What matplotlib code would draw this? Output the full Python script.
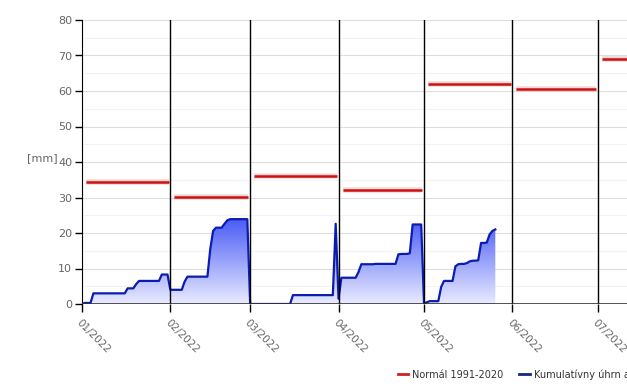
import numpy as np
import matplotlib
matplotlib.use('Agg')
from matplotlib import pyplot as plt
from matplotlib.colors import LinearSegmentedColormap
from matplotlib.lines import Line2D

# month start offsets (days from 1 Jan 2022)
month_starts = [0, 31, 59, 90, 120, 151, 181]
month_labels = ['01/2022', '02/2022', '03/2022', '04/2022', '05/2022', '06/2022', '07/2022']
month_lengths = [31, 28, 31, 30, 31, 30, 31]

# long-term monthly normal 1991-2020 [mm]
normal = [34.3, 30.2, 36.0, 32.2, 62.0, 60.7, 69.0]

# cumulative daily precipitation, reset every month [mm]
jan = [0.0, 0.3, 0.3, 0.3, 3.0, 3.0, 3.0, 3.0, 3.0, 3.0, 3.0, 3.0, 3.0, 3.0, 3.0, 3.0,
       4.4, 4.4, 4.4, 5.6, 6.5, 6.5, 6.5, 6.5, 6.5, 6.5, 6.5, 6.5, 8.3, 8.3, 8.3]
feb = [4.0, 4.0, 4.0, 4.0, 4.0, 6.3, 7.7, 7.7, 7.7, 7.7, 7.7, 7.7, 7.7, 7.7,
       15.5, 20.6, 21.5, 21.5, 21.5, 22.6, 23.6, 23.9, 23.9, 23.9, 23.9, 23.9, 23.9, 23.9]
mar = [0.0, 0.0, 0.0, 0.0, 0.0, 0.0, 0.0, 0.0, 0.0, 0.0, 0.0, 0.0, 0.0, 0.0, 0.0,
       2.5, 2.5, 2.5, 2.5, 2.5, 2.5, 2.5, 2.5, 2.5, 2.5, 2.5, 2.5, 2.5, 2.5, 2.5, 22.6]
apr = [1.5, 7.4, 7.4, 7.4, 7.4, 7.4, 7.4, 9.0, 11.2, 11.2, 11.2, 11.2, 11.2, 11.3, 11.3,
       11.3, 11.3, 11.3, 11.3, 11.3, 11.3, 14.0, 14.1, 14.1, 14.1, 14.3, 22.4, 22.4, 22.4, 22.4]
may = [0.0, 0.5, 0.8, 0.8, 0.8, 0.8, 4.8, 6.5, 6.5, 6.5, 6.5, 10.6, 11.2, 11.3, 11.3,
       11.5, 12.0, 12.2, 12.2, 12.3, 17.2, 17.2, 17.3, 19.6, 20.6, 21.0]

vals = np.array(jan + feb + mar + apr + may)
days = np.concatenate([month_starts[i] + np.arange(len(m))
                       for i, m in enumerate([jan, feb, mar, apr, may])])

fig = plt.figure(figsize=(6.27, 3.87), dpi=100)
ax = fig.add_axes([82 / 627, 1 - 304 / 387, 1 - 82 / 627, 284 / 387])
xmax = 191.2
ax.set_xlim(0, xmax)
ax.set_ylim(0, 80)

# grid
for y in range(5, 80, 10):
    ax.axhline(y, color='#f3f3f3', lw=0.8, zorder=0)
for y in range(10, 81, 10):
    ax.axhline(y, color='#dddddd', lw=0.8, zorder=0)
for xs in month_starts[1:]:
    ax.axvline(xs, color='black', lw=1, zorder=4)

# gradient area fill
cmap = LinearSegmentedColormap.from_list('bl', ['#e9ebff', '#4a5cf5'])
grad = np.linspace(0, 1, 256).reshape(-1, 1)
im = ax.imshow(grad, cmap=cmap, origin='lower', aspect='auto',
               extent=(0, days[-1], 0, vals.max()), zorder=1)
poly = ax.fill_between(days, vals, 0, color='none', lw=0)
im.set_clip_path(poly.get_paths()[0], transform=ax.transData)
ax.plot(days, vals, color='#0a1db0', lw=1.6, zorder=3)

# normals
for i, n in enumerate(normal):
    x0 = month_starts[i] + 1.4
    x1 = month_starts[i] + month_lengths[i] - 0.6
    ax.plot([x0, x1], [n, n], color='#f2b0b0', lw=4, alpha=0.5, zorder=2,
            solid_capstyle='butt')
    ax.plot([x0, x1], [n, n], color='#cc1111', lw=1.8, zorder=3,
            solid_capstyle='butt')

# axes styling
for s in ['top', 'right', 'bottom']:
    ax.spines[s].set_visible(False)
ax.spines['left'].set_color('black')
ax.axhline(0, color='#333333', lw=1.2, zorder=5)
ax.set_yticks(range(0, 81, 10))
ax.tick_params(axis='y', length=5, width=1, colors='black', labelcolor='#666666',
               labelsize=8, pad=2)
ax.set_xticks(month_starts)
ax.set_xticklabels(month_labels, rotation=-45, ha='left', va='top',
                   rotation_mode='anchor', color='#666666', fontsize=7.5)
ax.tick_params(axis='x', length=6, width=1, colors='black', pad=4)
for lbl in ax.get_xticklabels():
    lbl.set_color('#666666')
fig.text(58 / 627, 1 - 158 / 387, '[mm]', ha='right', va='center',
         color='#666666', fontsize=8)

# legend (runs past the right edge, as in the original)
handles = [Line2D([], [], color='#cc2222', lw=2),
           Line2D([], [], color='#1a237e', lw=2)]
fig.legend(handles, ['Normál 1991-2020', 'Kumulatívny úhrn atmosférických zrážok'],
           loc='center left', bbox_to_anchor=(389 / 627, 1 - 374 / 387), ncol=2,
           frameon=False, fontsize=7, handlelength=1.1, handletextpad=0.4,
           columnspacing=1.6, labelcolor='#333333')

plt.savefig('out.png', dpi=100)
